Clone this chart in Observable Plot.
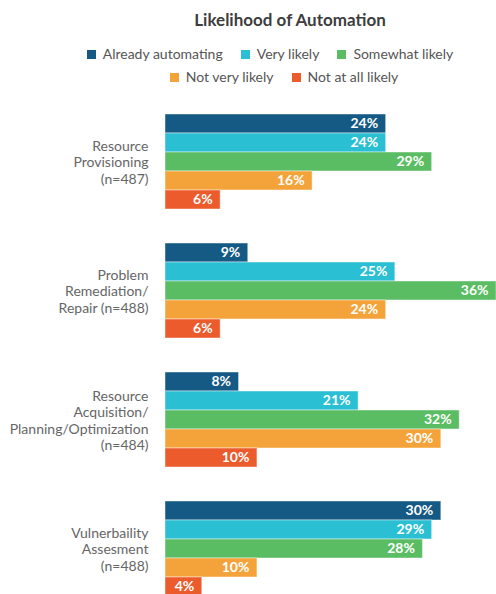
<!DOCTYPE html>
<html>
<head>
<meta charset="utf-8">
<script src="https://cdn.jsdelivr.net/npm/d3@7"></script>
<script src="https://cdn.jsdelivr.net/npm/@observablehq/plot@0.6"></script>
<style>
  html, body { margin: 0; padding: 0; background: #fff; overflow: hidden; }
  body { font-family: Lato, "Open Sans", sans-serif; width: 496px; }
  #header { position: relative; height: 95px; width: 496px; }
  #title { position: absolute; left: 84px; right: 0; top: 9px; text-align: center;
           font-size: 17px; font-weight: bold; color: #3d3d3d; line-height: 22px; }
  .row { position: absolute; right: 0; display: flex; justify-content: center;
         font-size: 14px; color: #555; line-height: 20px; }
  .item { display: flex; align-items: center; margin: 0 9px; white-space: nowrap; }
  .sw { width: 9px; height: 9px; margin-right: 7px; }
</style>
</head>
<body>
<div id="header">
  <div id="title">Likelihood of Automation</div>
</div>
<div id="chart"></div>
<script>
const groups = [
  "Resource\nProvisioning\n(n=487)",
  "Problem\nRemediation/\nRepair (n=488)",
  "Resource\nAcquisition/\nPlanning/Optimization\n(n=484)",
  "Vulnerbaility\nAssesment\n(n=488)"
];
const series = ["Already automating", "Very likely", "Somewhat likely", "Not very likely", "Not at all likely"];
const colors = ["#155a84", "#2bbfd3", "#5bbd63", "#f4a33b", "#eb5b2b"];

const alreadyAutomating = [24, 9, 8, 30];
const veryLikely        = [24, 25, 21, 29];
const somewhatLikely    = [29, 36, 32, 28];
const notVeryLikely     = [16, 24, 30, 10];
const notAtAllLikely    = [6, 6, 10, 4];

const seriesValues = [alreadyAutomating, veryLikely, somewhatLikely, notVeryLikely, notAtAllLikely];
const data = groups.flatMap((g, i) => series.map((s, j) => ({group: g, series: s, value: seriesValues[j][i]})));

// Legend (HTML, two rows)
const header = document.getElementById("header");
const rowsSpec = [{items: series.slice(0, 3), top: 44, left: 44}, {items: series.slice(3), top: 67, left: 72}];
for (const r of rowsSpec) {
  const row = document.createElement("div");
  row.className = "row";
  row.style.top = r.top + "px";
  row.style.left = r.left + "px";
  for (const s of r.items) {
    const it = document.createElement("div");
    it.className = "item";
    const sw = document.createElement("span");
    sw.className = "sw";
    sw.style.background = colors[series.indexOf(s)];
    const t = document.createElement("span");
    t.textContent = s;
    it.appendChild(sw); it.appendChild(t);
    row.appendChild(it);
  }
  header.appendChild(row);
}

const chart = Plot.plot({
  width: 496,
  height: 504,
  marginTop: 17,
  marginBottom: 0,
  marginLeft: 165,
  marginRight: 0,
  style: {fontFamily: "Lato, 'Open Sans', sans-serif", background: "white"},
  x: {domain: [0, 36], axis: null},
  y: {domain: series, axis: null, padding: 0},
  fy: {domain: groups, paddingInner: 0.23, paddingOuter: 0, label: null},
  color: {domain: series, range: colors},
  marks: [
    Plot.barX(data, {x: "value", y: "series", fy: "group", fill: "series",
      stroke: "white", strokeOpacity: 0.45, strokeWidth: 1}),
    Plot.text(data, {x: "value", y: "series", fy: "group", text: d => d.value + "%",
      textAnchor: "end", dx: -8, fill: "white", fontWeight: "bold", fontSize: 14}),
    Plot.axisFy({anchor: "left", tickSize: 0, tickPadding: 17, fontSize: 14,
      lineHeight: 1.18, label: null, color: "#666"})
  ]
});
document.getElementById("chart").appendChild(chart);
</script>
</body>
</html>
